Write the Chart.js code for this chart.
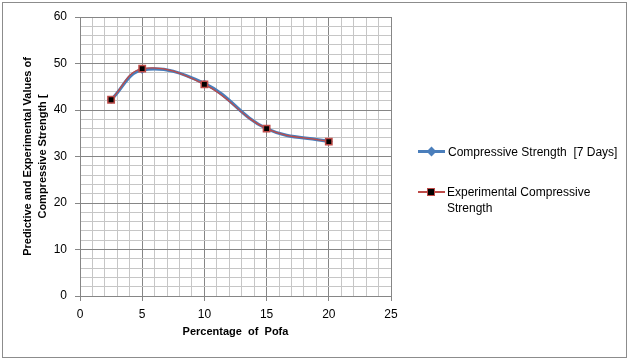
<!DOCTYPE html>
<html>
<head>
<meta charset="utf-8">
<script src="https://cdn.jsdelivr.net/npm/chart.js@4.4.1/dist/chart.umd.min.js"></script>
<style>
  html, body { margin: 0; padding: 0; background: #fff; }
  #wrap { position: relative; width: 629px; height: 360px; }
  #frame { position: absolute; left: 2px; top: 2px; width: 623px; height: 354px; border: 1px solid #8c8c8c; pointer-events: none; }
  canvas { position: absolute; left: 0; top: 0; }
  .lg { position: absolute; font: 12px 'Liberation Sans', Arial, sans-serif; color: #000; line-height: 16px; }
  .ln { position: absolute; }
  .mk { position: absolute; box-sizing: border-box; }
</style>
</head>
<body>
<div id="wrap">
  <canvas id="chart" width="629" height="360"></canvas>
  <div id="frame"></div>
  <!-- legend (Excel style, second label wraps) -->
  <div class="ln" style="left:418px;top:150px;width:27px;height:3px;background:#4a7ebb"></div>
  <div class="mk" style="left:428px;top:148px;width:7px;height:7px;background:#4a7ebb;transform:rotate(45deg)"></div>
  <div class="lg" style="left:448px;top:144px">Compressive Strength&nbsp; [7 Days]</div>
  <div class="ln" style="left:418px;top:191px;width:27px;height:1.5px;background:#be4b48"></div>
  <div class="mk" style="left:427px;top:188px;width:8px;height:8px;background:#000;border:1.5px solid #be4b48"></div>
  <div class="lg" style="left:447px;top:184px">Experimental Compressive<br>Strength</div>
</div>
<script>
// values
const pofa = [2.5, 5, 10, 15, 20];
const predicted = [42.2, 48.6, 45.7, 36.0, 33.2];
const experimental = [42.2, 48.9, 45.5, 36.0, 33.2];

const MAJOR = '#868686', MINOR = '#c6c6c6';
const FONT = "'Liberation Sans', Arial, sans-serif";

const pts = ys => pofa.map((x, i) => ({ x, y: ys[i] }));

new Chart(document.getElementById('chart'), {
  type: 'scatter',
  data: {
    datasets: [
      { label: 'Compressive Strength [7 Days]', data: pts(predicted), showLine: true, order: 1,
        borderColor: '#4a7ebb', backgroundColor: '#4a7ebb', borderWidth: 3.2, tension: 0.4,
        pointStyle: 'rectRot', pointRadius: 4, pointBorderWidth: 0 },
      { label: 'Experimental Compressive Strength', data: pts(experimental), showLine: true, order: 0,
        borderColor: '#be4b48', backgroundColor: '#000', borderWidth: 1.3, tension: 0.4,
        pointStyle: 'rect', pointRadius: 4.5, pointBorderWidth: 1.5, pointBorderColor: '#be4b48' }
    ]
  },
  options: {
    responsive: false, animation: false, devicePixelRatio: 1,
    layout: { padding: { left: 0, top: 17, right: 238, bottom: 0 } },
    plugins: { legend: { display: false }, tooltip: { enabled: false } },
    scales: {
      x: {
        type: 'linear', min: 0, max: 25,
        afterFit: s => { s.height = 64; },
        border: { color: MAJOR },
        grid: { color: c => c.tick.value % 5 === 0 ? MAJOR : MINOR,
                tickColor: c => c.tick.value % 5 === 0 ? MAJOR : 'rgba(0,0,0,0)', tickLength: 5 },
        ticks: { stepSize: 1, autoSkip: false, maxRotation: 0, padding: 6, color: '#000',
                 font: { family: FONT, size: 12 }, callback: v => v % 5 === 0 ? v : '' },
        title: { display: true, text: 'Percentage  of  Pofa', color: '#000',
                 font: { family: FONT, size: 11, weight: 'bold' }, padding: { top: 0, bottom: 21 } }
      },
      y: {
        min: 0, max: 60,
        afterFit: s => { s.width = 80; },
        border: { color: MAJOR },
        grid: { color: c => c.tick.value % 10 === 0 ? MAJOR : MINOR,
                tickColor: c => c.tick.value % 10 === 0 ? MAJOR : 'rgba(0,0,0,0)', tickLength: 5 },
        ticks: { stepSize: 2, autoSkip: false, padding: 8, color: '#000',
                 font: { family: FONT, size: 12 }, callback: v => v % 10 === 0 ? v : '' },
        title: { display: true, text: ['Predictive and Experimental Values of', 'Compressive Strength ['],
                 color: '#000', font: { family: FONT, size: 11, weight: 'bold', lineHeight: 1.4 },
                 padding: { top: 20, bottom: 0 } }
      }
    }
  }
});
</script>
</body>
</html>
